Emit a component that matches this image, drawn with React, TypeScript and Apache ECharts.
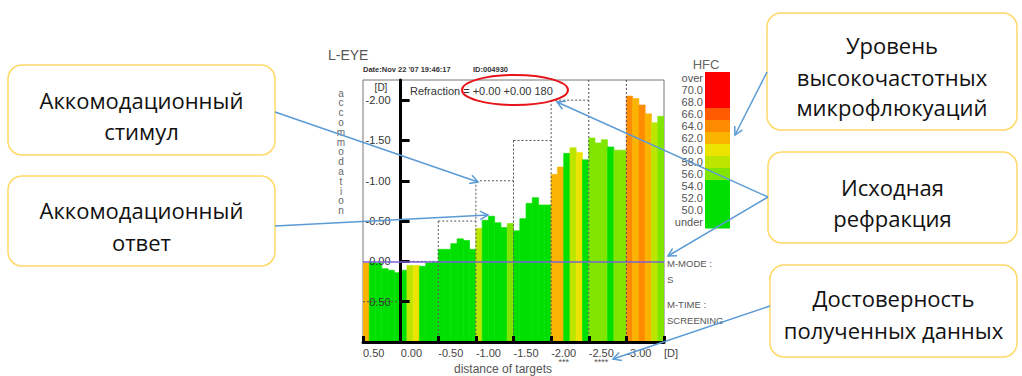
import React, { useEffect, useRef } from 'react';
import * as echarts from 'echarts';

// ---- data ----
const TARGETS = ['0.50', '0.00', '-0.50', '-1.00', '-1.50', '-2.00', '-2.50', '-3.00'];
const STIMULUS = [0.5, 0.0, -0.5, -1.0, -1.5, -2.0, -2.5, -3.0];
const RELIABILITY = ['', '', '', '', '', '***', '****', ''];
const REFRACTION = 0.0;
// accommodation response, 6 samples per target [D]
const RESPONSE = [
  [0.02, 0.01, 0.02, 0.09, 0.11, 0.14],
  [0.11, 0.05, 0.05, 0.06, 0.02, 0.01],
  [-0.15, -0.15, -0.22, -0.28, -0.26, -0.15],
  [-0.41, -0.51, -0.56, -0.48, -0.42, -0.47],
  [-0.38, -0.53, -0.72, -0.79, -0.7, -0.7],
  [-1.08, -1.17, -1.34, -1.41, -1.35, -1.26],
  [-1.53, -1.47, -1.51, -1.42, -1.38, -1.38],
  [-2.05, -2.02, -1.94, -1.83, -1.72, -1.8],
];
// high-frequency component per sample
const HFC = [
  [62, 52, 52, 52, 52, 52],
  [52, 58, 60, 52, 52, 52],
  [52, 52, 52, 52, 52, 52],
  [58, 52, 52, 52, 52, 56],
  [52, 52, 52, 52, 52, 52],
  [62, 62, 52, 58, 60, 52],
  [56, 56, 56, 52, 56, 56],
  [64, 62, 64, 62, 58, 56],
];
const Y_TICKS = [-2, -1.5, -1, -0.5, 0, 0.5];
const HFC_LEGEND_LABELS = ['over', '70.0', '68.0', '66.0', '64.0', '62.0', '60.0', '58.0', '56.0', '54.0', '52.0', '50.0', 'under'];
const HFC_LEGEND_VALUES = [72, 70, 68, 66, 64, 62, 60, 58, 56, 54, 52, 50, 48];
const HFC_BAND_MIN = [67, 65, 63, 61, 59, 57, 55, -Infinity];
const HFC_BAND_COLORS = ['#ff0000', '#ff5a00', '#ff8c00', '#fab400', '#ece400', '#bce600', '#80e600', '#00e000'];

const Y_MIN = -2.25;
const Y_MAX = 1.0;

function hfcColor(v: number) {
  for (let i = 0; i < HFC_BAND_MIN.length; i++) if (v >= HFC_BAND_MIN[i]) return HFC_BAND_COLORS[i];
  return HFC_BAND_COLORS[HFC_BAND_COLORS.length - 1];
}

const ARROW = '#5b9bd5';
function arrow(x1: number, y1: number, x2: number, y2: number) {
  const a = Math.atan2(y2 - y1, x2 - x1);
  const L = 9, s = 0.5;
  const p1 = [x2 - L * Math.cos(a - s), y2 - L * Math.sin(a - s)];
  const p2 = [x2 - L * Math.cos(a + s), y2 - L * Math.sin(a + s)];
  return [
    { type: 'line', z: 100, shape: { x1, y1, x2, y2 }, style: { stroke: ARROW, lineWidth: 1.5 } },
    { type: 'polyline', z: 100, shape: { points: [p1, [x2, y2], p2] }, style: { stroke: ARROW, lineWidth: 1.5, fill: null } },
  ];
}

const BOX_FONT = '22px "Open Sans", "Noto Sans", sans-serif';
function box(x: number, y: number, w: number, h: number, lines: string[], ys: number[]) {
  const els: any[] = [
    { type: 'rect', z: 50, shape: { x, y, width: w, height: h, r: 14 }, style: { fill: '#fff', stroke: '#ffd966', lineWidth: 1.5 } },
  ];
  lines.forEach((t, i) => {
    els.push({ type: 'text', z: 51, x: x + w / 2, y: ys[i], style: { text: t, font: BOX_FONT, fill: '#111', align: 'center', verticalAlign: 'middle' } });
  });
  return els;
}

const CHART_FONT = '"Liberation Sans", Arial, sans-serif';

export default function App() {
  const ref = useRef<HTMLDivElement>(null);
  useEffect(() => {
    if (!ref.current) return;
    const chart = echarts.init(ref.current, undefined, { renderer: 'svg' });

    const barData: number[][] = [];
    RESPONSE.forEach((seg, i) => {
      seg.forEach((v, j) => {
        barData.push([i - 1 + j / seg.length, i - 1 + (j + 1) / seg.length, v, HFC[i][j]]);
      });
    });
    const stimData = STIMULUS.map((s, i) => [i, i - 1, i, s]);

    const legendEls: any[] = [];
    const rowH = 12, legTop = 72, legX = 705, legW = 25;
    HFC_LEGEND_VALUES.forEach((v, i) => {
      legendEls.push({ type: 'rect', shape: { x: legX, y: legTop + i * rowH, width: legW, height: rowH + 0.5 }, style: { fill: hfcColor(v) } });
      legendEls.push({ type: 'text', x: 703, y: legTop + i * rowH + rowH / 2, style: { text: HFC_LEGEND_LABELS[i], font: `11px ${CHART_FONT}`, fill: '#555', align: 'right', verticalAlign: 'middle' } });
    });
    legendEls.push({ type: 'text', x: 706, y: 64, style: { text: 'HFC', font: `13px ${CHART_FONT}`, fill: '#666', align: 'center', verticalAlign: 'middle' } });

    const vertLetters = 'accommodation'.split('').map((ch, i) => ({
      type: 'text', x: 341, y: 93 + i * 9.8,
      style: { text: ch, font: `10px ${CHART_FONT}`, fill: '#666', align: 'center', verticalAlign: 'middle' },
    }));

    const option: any = {
      animation: false,
      backgroundColor: '#fff',
      grid: { left: 363, top: 80, width: 301, height: 262, show: true, borderColor: '#777', borderWidth: 1 },
      xAxis: {
        type: 'value', min: -1, max: 7, interval: 1, z: 6,
        axisLine: { onZero: false, lineStyle: { color: '#000', width: 3 } },
        axisTick: { inside: true, length: 6, lineStyle: { color: '#000', width: 3 } },
        splitLine: { show: false },
        axisLabel: {
          margin: 5, align: 'left', color: '#444', fontFamily: CHART_FONT, fontSize: 11,
          formatter: (v: number) => {
            const i = Math.round(v) + 1;
            if (i >= TARGETS.length) return '[D]';
            return RELIABILITY[i] ? `${TARGETS[i]}\n{r|${RELIABILITY[i]}}` : TARGETS[i];
          },
          rich: { r: { fontSize: 9, color: '#555', align: 'center', lineHeight: 7 } },
        },
      },
      yAxis: {
        type: 'value', inverse: true, min: Y_MIN, max: Y_MAX, offset: -37.6, z: 6,
        axisLine: { onZero: false, lineStyle: { color: '#000', width: 3 } },
        axisTick: { inside: true, length: 9, customValues: Y_TICKS, lineStyle: { color: '#000', width: 3 } },
        splitLine: { show: false },
        axisLabel: {
          customValues: Y_TICKS, margin: 10, color: '#333', fontFamily: CHART_FONT, fontSize: 11,
          formatter: (v: number) => v.toFixed(2),
        },
      },
      series: [
        {
          type: 'custom', z: 2, clip: true,
          data: barData,
          encode: { x: [0, 1], y: 2 },
          renderItem: (params: any, api: any) => {
            const p0 = api.coord([api.value(0), api.value(2)]);
            const p1 = api.coord([api.value(1), Y_MAX]);
            const c = hfcColor(api.value(3));
            return {
              type: 'rect',
              shape: { x: p0[0], y: p0[1], width: p1[0] - p0[0], height: p1[1] - p0[1] },
              style: { fill: c, stroke: c, lineWidth: 0.6 },
            };
          },
        },
        {
          type: 'custom', z: 3,
          data: stimData,
          encode: { x: [1, 2], y: 3 },
          renderItem: (params: any, api: any) => {
            const i = api.value(0);
            const cs = params.coordSys;
            const top = cs.y, bottom = cs.y + cs.height;
            const a = api.coord([api.value(1), api.value(3)]);
            const b = api.coord([api.value(2), api.value(3)]);
            const st = { stroke: '#555', lineWidth: 1, lineDash: [2, 2] };
            const children: any[] = [];
            if (a[1] >= top) children.push({ type: 'line', shape: { x1: a[0], y1: a[1], x2: b[0], y2: b[1] }, style: st });
            if (i >= 2) children.push({ type: 'line', shape: { x1: a[0], y1: Math.max(a[1], top), x2: a[0], y2: bottom }, style: st });
            return { type: 'group', children };
          },
          markLine: {
            silent: true, symbol: 'none', label: { show: false }, z: 8,
            lineStyle: { color: '#7b5fd6', type: 'solid', width: 1.5 },
            data: [{ yAxis: REFRACTION }],
          },
        },
      ],
      graphic: [
        { type: 'text', x: 328, y: 55, style: { text: 'L-EYE', font: `14px ${CHART_FONT}`, fill: '#555', verticalAlign: 'middle' } },
        { type: 'text', x: 363, y: 69, style: { text: "Date:Nov 22 '07 19:46:17", font: `bold 7.5px ${CHART_FONT}`, fill: '#333', verticalAlign: 'middle' } },
        { type: 'text', x: 473, y: 69, style: { text: 'ID:004930', font: `bold 7.5px ${CHART_FONT}`, fill: '#333', verticalAlign: 'middle' } },
        { type: 'text', x: 410, y: 91, style: { text: 'Refraction = +0.00 +0.00 180', font: `11px ${CHART_FONT}`, fill: '#333', verticalAlign: 'middle' } },
        { type: 'ellipse', z: 60, shape: { cx: 515, cy: 90, rx: 53, ry: 15 }, style: { fill: null, stroke: '#e8141b', lineWidth: 2 } },
        { type: 'text', x: 381, y: 87, style: { text: '[D]', font: `10px ${CHART_FONT}`, fill: '#333', align: 'center', verticalAlign: 'middle' } },
        ...vertLetters,
        { type: 'text', x: 667, y: 263, style: { text: 'M-MODE :', font: `9.5px ${CHART_FONT}`, fill: '#555', verticalAlign: 'middle' } },
        { type: 'text', x: 667, y: 279, style: { text: 'S', font: `9.5px ${CHART_FONT}`, fill: '#555', verticalAlign: 'middle' } },
        { type: 'text', x: 667, y: 304, style: { text: 'M-TIME :', font: `9.5px ${CHART_FONT}`, fill: '#555', verticalAlign: 'middle' } },
        { type: 'text', x: 667, y: 320, style: { text: 'SCREENING', font: `9.5px ${CHART_FONT}`, fill: '#555', verticalAlign: 'middle' } },
        { type: 'text', x: 503, y: 369, style: { text: 'distance of targets', font: `12px ${CHART_FONT}`, fill: '#555', align: 'center', verticalAlign: 'middle' } },
        ...legendEls,
        ...box(8, 65, 267, 90, ['Аккомодационный', 'стимул'], [100, 131]),
        ...box(8, 176, 267, 90, ['Аккомодационный', 'ответ'], [210, 242]),
        ...box(767, 13, 250, 117, ['Уровень', 'высокочастотных', 'микрофлюкуаций'], [45, 77, 107]),
        ...box(768, 152, 249, 91, ['Исходная', 'рефракция'], [187, 218]),
        ...box(770, 265, 247, 92, ['Достоверность', 'полученных данных'], [298, 330]),
        ...arrow(275, 112, 478, 182),
        ...arrow(275, 226, 488, 215),
        ...arrow(767, 72, 735, 135),
        ...arrow(768, 197, 557, 102),
        ...arrow(768, 197, 668, 256),
        ...arrow(770, 306, 613, 359),
      ],
    };
    chart.setOption(option);
    return () => chart.dispose();
  }, []);
  return <div ref={ref} style={{ position: 'fixed', left: 0, top: 0, width: 1022, height: 376, background: '#fff' }} />;
}
